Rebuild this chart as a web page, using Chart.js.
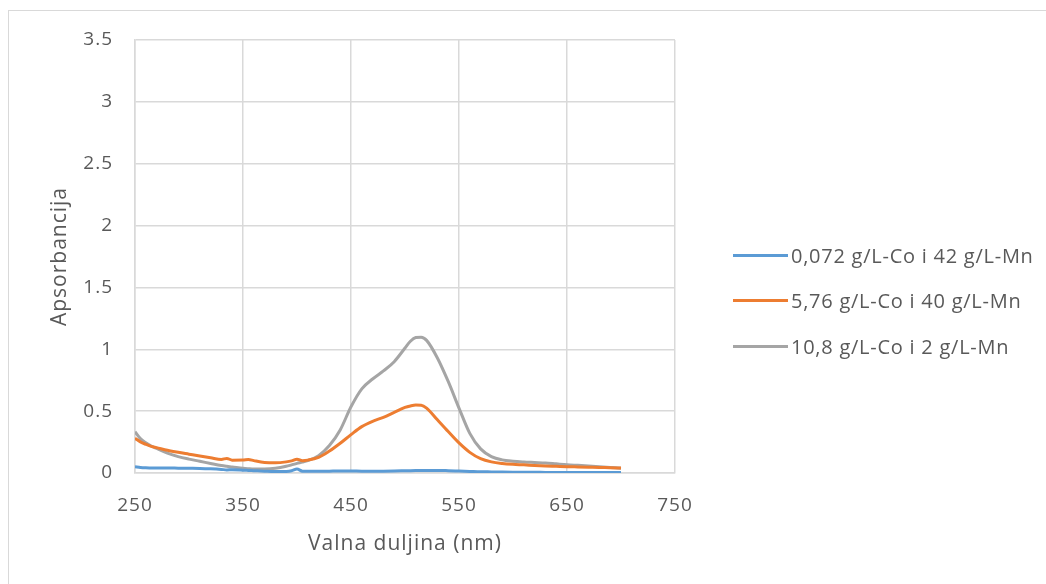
<!DOCTYPE html>
<html>
<head>
<meta charset="utf-8">
<script src="https://cdn.jsdelivr.net/npm/chart.js@4"></script>
<style>
  html, body { margin: 0; padding: 0; background: #fff; }
  #wrap { position: relative; width: 1046px; height: 584px; overflow: hidden; }
  #frame { position: absolute; left: 8px; top: 10px; width: 1100px; height: 700px; border: 1px solid #d9d9d9; box-sizing: border-box; }
  canvas { position: absolute; left: 0; top: 0; }
  #legend { position: absolute; left: 733px; top: 0; font-family: "Open Sans", sans-serif; font-size: 20px; letter-spacing: 0.75px; color: #595959; }
  .row { position: absolute; left: 0; white-space: nowrap; height: 26px; display: flex; align-items: center; }
  .swatch { width: 55px; height: 3px; margin-right: 3px; }
</style>
</head>
<body>
<div id="wrap">
  <div id="frame"></div>
  <canvas id="c" width="1046" height="584"></canvas>
  <div id="legend"></div>
</div>
<script>
const wavelengths = [250,255,260,265,270,280,290,300,310,320,330,335,340,350,355,360,370,380,390,395,400,405,410,420,430,440,450,460,470,480,490,500,505,510,515,520,530,540,550,560,570,580,590,600,610,620,630,640,650,660,670,680,690,700];

const seriesNames = ["0,072 g/L-Co i 42 g/L-Mn", "5,76 g/L-Co i 40 g/L-Mn", "10,8 g/L-Co i 2 g/L-Mn"];
const seriesColors = ["#5B9BD5", "#ED7D31", "#A5A5A5"];

const blueValues = [0.051,0.045,0.042,0.041,0.040,0.040,0.039,0.038,0.037,0.034,0.029,0.025,0.026,0.023,0.021,0.019,0.015,0.012,0.013,0.018,0.032,0.015,0.014,0.014,0.015,0.016,0.016,0.015,0.015,0.015,0.016,0.018,0.019,0.020,0.021,0.021,0.021,0.019,0.016,0.013,0.010,0.009,0.008,0.007,0.006,0.006,0.005,0.005,0.005,0.005,0.005,0.005,0.005,0.005];

const orangeValues = [0.280,0.252,0.232,0.215,0.205,0.184,0.167,0.152,0.137,0.123,0.110,0.118,0.104,0.105,0.110,0.100,0.085,0.083,0.090,0.098,0.112,0.100,0.104,0.126,0.177,0.240,0.310,0.375,0.418,0.450,0.490,0.530,0.542,0.549,0.548,0.525,0.430,0.335,0.243,0.167,0.116,0.090,0.077,0.070,0.066,0.061,0.057,0.054,0.051,0.049,0.047,0.045,0.042,0.040];

const grayValues = [0.334,0.278,0.245,0.218,0.198,0.160,0.132,0.112,0.095,0.077,0.060,0.054,0.049,0.038,0.035,0.033,0.033,0.038,0.054,0.066,0.078,0.088,0.100,0.140,0.222,0.348,0.535,0.680,0.760,0.825,0.900,1.010,1.065,1.095,1.098,1.072,0.930,0.740,0.525,0.320,0.195,0.133,0.106,0.095,0.089,0.085,0.081,0.074,0.067,0.062,0.057,0.051,0.045,0.039];

const xTitle = "Valna duljina (nm)";
const yTitle = "Apsorbancija";

const allValues = [blueValues, orangeValues, grayValues];
const textColor = "#595959";
const gridColor = "#d9d9d9";
const fontFamily = "'Open Sans', sans-serif";

const datasets = allValues.map((vals, i) => ({
  label: seriesNames[i],
  data: wavelengths.map((w, j) => ({ x: w, y: vals[j] })),
  borderColor: seriesColors[i],
  backgroundColor: seriesColors[i],
  borderWidth: 3,
  pointRadius: 0,
  cubicInterpolationMode: 'monotone',
  fill: false
}));

const spacingPlugin = {
  id: 'spacing',
  beforeDraw(chart) { chart.ctx.letterSpacing = '1px'; }
};

new Chart(document.getElementById('c'), {
  type: 'line',
  data: { datasets },
  plugins: [spacingPlugin],
  options: {
    responsive: false,
    animation: false,
    devicePixelRatio: 1,
    layout: { padding: { left: 0, top: 40, right: 371, bottom: 0 } },
    plugins: { legend: { display: false }, tooltip: { enabled: false } },
    scales: {
      x: {
        type: 'linear',
        min: 250, max: 750,
        ticks: { stepSize: 100, color: textColor, font: { family: fontFamily, size: 19 }, padding: 21, maxRotation: 0, callback: (v) => String(v) },
        grid: { color: gridColor, lineWidth: 1.5, drawTicks: false },
        border: { color: gridColor, width: 1.5 },
        title: { display: true, text: xTitle, color: textColor, font: { family: fontFamily, size: 21 }, padding: { top: 0, bottom: 27 } },
        afterFit: (s) => { s.height = 111; }
      },
      y: {
        type: 'linear',
        min: 0, max: 3.5,
        ticks: { stepSize: 0.5, color: textColor, font: { family: fontFamily, size: 19 }, padding: 22, callback: (v) => String(v) },
        grid: { color: gridColor, lineWidth: 1.5, drawTicks: false },
        border: { color: gridColor, width: 1.5 },
        title: { display: true, text: yTitle, color: textColor, font: { family: fontFamily, size: 21 }, padding: { top: 47, bottom: 0 } },
        afterFit: (s) => { s.width = 135; }
      }
    }
  }
});

const legend = document.getElementById('legend');
const rowY = [255, 300, 346];
seriesNames.forEach((name, i) => {
  const row = document.createElement('div');
  row.className = 'row';
  row.style.top = (rowY[i] - 13) + 'px';
  const sw = document.createElement('div');
  sw.className = 'swatch';
  sw.style.background = seriesColors[i];
  const t = document.createElement('span');
  t.textContent = name;
  row.appendChild(sw);
  row.appendChild(t);
  legend.appendChild(row);
});
</script>
</body>
</html>
